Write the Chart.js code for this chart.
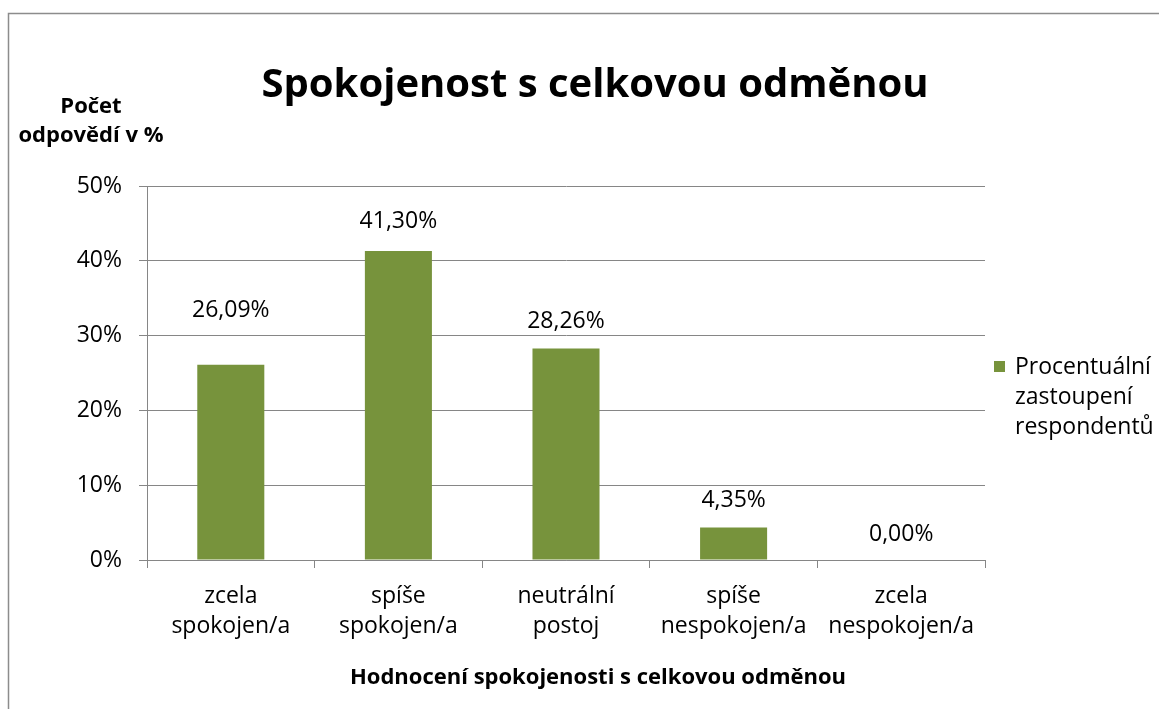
<!DOCTYPE html>
<html>
<head>
<meta charset="utf-8">
<script src="https://cdn.jsdelivr.net/npm/chart.js@4/dist/chart.umd.min.js"></script>
<style>
  html, body { margin: 0; padding: 0; background: #fff; }
  #wrap { width: 1159px; height: 709px; }
</style>
</head>
<body>
<div id="wrap"><canvas id="chart" width="1159" height="709"></canvas></div>
<script>
// chart data
const categories = [
    ["zcela", "spokojen/a"],
    ["spíše", "spokojen/a"],
    ["neutrální", "postoj"],
    ["spíše", "nespokojen/a"],
    ["zcela", "nespokojen/a"]
];
const shares = [26.09, 41.30, 28.26, 4.35, 0.00];
const yTicks = [0, 10, 20, 30, 40, 50];

const chartTitle = "Spokojenost s celkovou odměnou";
const yTitle = ["Počet", "odpovědí v %"];
const xTitle = "Hodnocení spokojenosti s celkovou odměnou";
const seriesName = ["Procentuální", "zastoupení", "respondentů"];

const FONT = "'Open Sans', 'Noto Sans', sans-serif";
const GREEN = "#77933C";

// draws the frame, titles, value labels and the legend
const decorations = {
    id: 'decorations',
    beforeDraw(chart) {
        const ctx = chart.ctx;
        ctx.save();
        ctx.strokeStyle = "#8c8c8c";
        ctx.lineWidth = 1.5;
        ctx.strokeRect(8.5, 13.5, 1200, 800);
        ctx.restore();
    },
    afterDraw(chart) {
        const ctx = chart.ctx;
        ctx.save();
        ctx.fillStyle = "#000";
        ctx.textAlign = "center";
        ctx.textBaseline = "middle";

        // main title
        ctx.font = "bold 40px " + FONT;
        ctx.fillText(chartTitle, 595, 86);

        // y axis title, horizontal above the axis
        ctx.font = "bold 22px " + FONT;
        ctx.fillText(yTitle[0], 91, 107);
        ctx.fillText(yTitle[1], 91, 136);

        // x axis title
        ctx.fillText(xTitle, 598, 678);

        // value labels above bars
        const lift = [54, 30, 27, 27, 26];
        ctx.font = "23px " + FONT;
        const meta = chart.getDatasetMeta(0);
        meta.data.forEach((bar, i) => {
            const txt = shares[i].toFixed(2).replace('.', ',') + '%';
            ctx.fillText(txt, bar.x, bar.y - lift[i]);
        });

        // legend
        ctx.fillStyle = GREEN;
        ctx.fillRect(994, 361, 11, 11);
        ctx.fillStyle = "#000";
        ctx.textAlign = "left";
        seriesName.forEach((line, i) => {
            ctx.fillText(line, 1015, 367 + i * 30);
        });
        ctx.restore();
    }
};

new Chart(document.getElementById("chart"), {
    type: 'bar',
    data: {
        labels: categories,
        datasets: [{
            label: seriesName.join(' '),
            data: shares,
            backgroundColor: GREEN,
            barPercentage: 0.4,
            categoryPercentage: 1.0
        }]
    },
    options: {
        responsive: false,
        animation: false,
        layout: { padding: { left: 8, top: 186, right: 174, bottom: 0 } },
        plugins: {
            legend: { display: false },
            title: { display: false },
            tooltip: { enabled: false }
        },
        scales: {
            x: {
                grid: {
                    offset: true,
                    drawOnChartArea: false,
                    color: "#868686",
                    tickLength: 8
                },
                border: { color: "#868686" },
                ticks: {
                    color: "#000",
                    font: { family: FONT, size: 23, lineHeight: 1.3 },
                    padding: 14,
                    maxRotation: 0
                },
                afterFit(scale) { scale.height = 149; }
            },
            y: {
                min: 0,
                max: 50,
                afterBuildTicks(scale) {
                    scale.ticks = yTicks.map(v => ({ value: v }));
                },
                grid: {
                    color: "#868686",
                    tickLength: 8
                },
                border: { color: "#868686" },
                ticks: {
                    color: "#000",
                    font: { family: FONT, size: 23 },
                    padding: 17,
                    callback: v => v + '%'
                },
                afterFit(scale) { scale.width = 139; }
            }
        }
    },
    plugins: [decorations]
});
</script>
</body>
</html>
